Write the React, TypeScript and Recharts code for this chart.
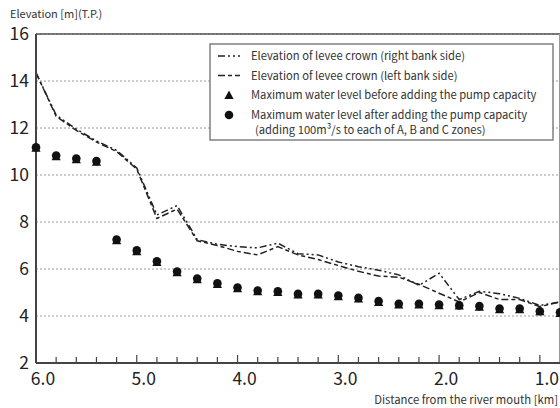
import React from 'react';
import { ComposedChart, Line, XAxis, YAxis, CartesianGrid, ReferenceLine } from 'recharts';

const distanceKm = [6.0, 5.8, 5.6, 5.4, 5.2, 5.0, 4.8, 4.6, 4.4, 4.2, 4.0, 3.8, 3.6, 3.4, 3.2, 3.0, 2.8, 2.6, 2.4, 2.2, 2.0, 1.8, 1.6, 1.4, 1.2, 1.0, 0.8];
const crownRight = [14.35, 12.55, 11.95, 11.45, 11.05, 10.3, 8.3, 8.7, 7.25, 7.05, 6.95, 6.9, 7.1, 6.65, 6.6, 6.3, 6.1, 5.95, 5.75, 5.3, 5.82, 4.7, 5.05, 4.95, 4.75, 4.45, 4.6];
const crownLeft = [14.35, 12.5, 11.9, 11.4, 11.0, 10.25, 8.15, 8.55, 7.2, 7.0, 6.75, 6.6, 6.95, 6.6, 6.4, 6.15, 5.9, 5.7, 5.65, 5.35, 4.97, 4.6, 5.0, 4.7, 4.7, 4.4, 4.6];
const levelBefore = [11.16, 10.8, 10.67, 10.56, 7.22, 6.76, 6.3, 5.86, 5.56, 5.36, 5.18, 5.05, 5.02, 4.91, 4.91, 4.84, 4.74, 4.6, 4.49, 4.49, 4.46, 4.45, 4.39, 4.29, 4.29, 4.2, 4.13];
const levelAfter = [11.16, 10.81, 10.68, 10.57, 7.23, 6.77, 6.31, 5.87, 5.57, 5.37, 5.19, 5.06, 5.03, 4.92, 4.92, 4.85, 4.75, 4.61, 4.5, 4.5, 4.47, 4.43, 4.4, 4.3, 4.3, 4.18, 4.14];

const xTicks = [6.0, 5.8, 5.6, 5.4, 5.2, 5.0, 4.8, 4.6, 4.4, 4.2, 4.0, 3.8, 3.6, 3.4, 3.2, 3.0, 2.8, 2.6, 2.4, 2.2, 2.0, 1.8, 1.6, 1.4, 1.2, 1.0];
const xMajorLabels = ['6.0', '5.0', '4.0', '3.0', '2.0', '1.0'];
const yTicks = [2, 4, 6, 8, 10, 12, 14, 16];

const legendLabels = [
  'Elevation of levee crown (right bank side)',
  'Elevation of levee crown (left bank side)',
  'Maximum water level before adding the pump capacity',
  'Maximum water level after adding the pump capacity',
  '(adding 100m³/s to each of A, B and C zones)',
];
const yTitle = 'Elevation [m](T.P.)';
const xTitle = 'Distance from the river mouth [km]';

const rows = distanceKm.map((km, i) => ({
  km,
  right: crownRight[i],
  left: crownLeft[i],
  before: levelBefore[i],
  after: levelAfter[i],
}));

const FONT = "'Noto Sans CJK JP', 'Noto Sans', sans-serif";
const DASH_RIGHT = '7 3 2 3 2 3';
const DASH_LEFT = '7 3 4 3';

const XTick = (props: any) => {
  const { x, y, payload } = props;
  const v = payload.value as number;
  const label = v.toFixed(1);
  const major = xMajorLabels.includes(label);
  return (
    <g>
      <line x1={x} x2={x} y1={y} y2={y - (major ? 8 : 6)} stroke="#444" strokeWidth={1.2} />
      {major && (
        <text x={x + 7} y={y + 22} textAnchor="middle" fontSize={17.5} fill="#222" fontFamily={FONT}>
          {label}
        </text>
      )}
    </g>
  );
};

const triDot = (p: any) => {
  const { cx, cy, index } = p;
  if (cx == null || cy == null) return <g key={`t${index}`} />;
  const h = 4.5;
  return (
    <polygon
      key={`t${index}`}
      points={`${cx},${cy - h} ${cx - 4.6},${cy + h - 0.5} ${cx + 4.6},${cy + h - 0.5}`}
      fill="#111"
    />
  );
};

const circDot = (p: any) => {
  const { cx, cy, index } = p;
  if (cx == null || cy == null) return <g key={`c${index}`} />;
  return <circle key={`c${index}`} cx={cx} cy={cy - 0.5} r={4.3} fill="#111" />;
};

export default function App() {
  const rowY = [56, 75.5, 95, 115, 129.5];
  return (
    <div style={{ position: 'absolute', left: 0, top: 0, width: 560, height: 408, background: '#fff' }}>
      <ComposedChart
        width={560}
        height={408}
        data={rows}
        margin={{ top: 34, right: 0, bottom: 0, left: 0 }}
      >
        <CartesianGrid horizontal vertical={false} stroke="#9a9a9a" strokeDasharray="2 2" />
        <XAxis
          dataKey="km"
          type="number"
          domain={[0.8, 6]}
          reversed
          ticks={xTicks}
          interval={0}
          height={45}
          tickLine={false}
          tickSize={0}
          tickMargin={0}
          axisLine={{ stroke: '#444', strokeWidth: 2 }}
          tick={<XTick />}
        />
        <YAxis
          type="number"
          domain={[2, 16]}
          ticks={yTicks}
          interval={0}
          width={36}
          tickLine={false}
          tickSize={5}
          tickMargin={2}
          axisLine={{ stroke: '#444', strokeWidth: 2 }}
          tick={{ fontSize: 17.5, fill: '#222', fontFamily: FONT }}
        />
        <ReferenceLine y={16} stroke="#555" strokeWidth={1.5} />
        <ReferenceLine x={0.8} stroke="#999" strokeWidth={2} />
        <Line
          dataKey="right"
          stroke="#222"
          strokeWidth={1.5}
          strokeDasharray={DASH_RIGHT}
          dot={false}
          activeDot={false}
          isAnimationActive={false}
          type="linear"
        />
        <Line
          dataKey="left"
          stroke="#222"
          strokeWidth={1.5}
          strokeDasharray={DASH_LEFT}
          dot={false}
          activeDot={false}
          isAnimationActive={false}
          type="linear"
        />
        <Line
          dataKey="before"
          stroke="none"
          dot={triDot}
          activeDot={false}
          isAnimationActive={false}
        />
        <Line
          dataKey="after"
          stroke="none"
          dot={circDot}
          activeDot={false}
          isAnimationActive={false}
        />
      </ComposedChart>
      <svg
        width={560}
        height={408}
        style={{ position: 'absolute', left: 0, top: 0, pointerEvents: 'none' }}
      >
        <text x={10} y={18} fontSize={11} fill="#333" fontFamily={FONT}>
          {yTitle}
        </text>
        <text x={558} y={404} fontSize={11.3} fill="#333" fontFamily={FONT} textAnchor="end">
          {xTitle}
        </text>
        <rect x={210} y={44} width={343} height={96} fill="#fff" stroke="#808080" strokeWidth={1.5} />
        <line x1={218} x2={240} y1={rowY[0]} y2={rowY[0]} stroke="#222" strokeWidth={1.5} strokeDasharray={DASH_RIGHT} />
        <line x1={218} x2={240} y1={rowY[1]} y2={rowY[1]} stroke="#222" strokeWidth={1.5} strokeDasharray={DASH_LEFT} />
        <polygon points={`229,${rowY[2] - 4.5} 224.4,${rowY[2] + 4} 233.6,${rowY[2] + 4}`} fill="#111" />
        <circle cx={229} cy={rowY[3]} r={4.3} fill="#111" />
        {legendLabels.map((t, i) => (
          <text
            key={i}
            x={i === 4 ? 255 : 251}
            y={rowY[i] + 4}
            fontSize={11.2}
            fill="#333"
            fontFamily={FONT}
          >
            {t}
          </text>
        ))}
      </svg>
    </div>
  );
}
